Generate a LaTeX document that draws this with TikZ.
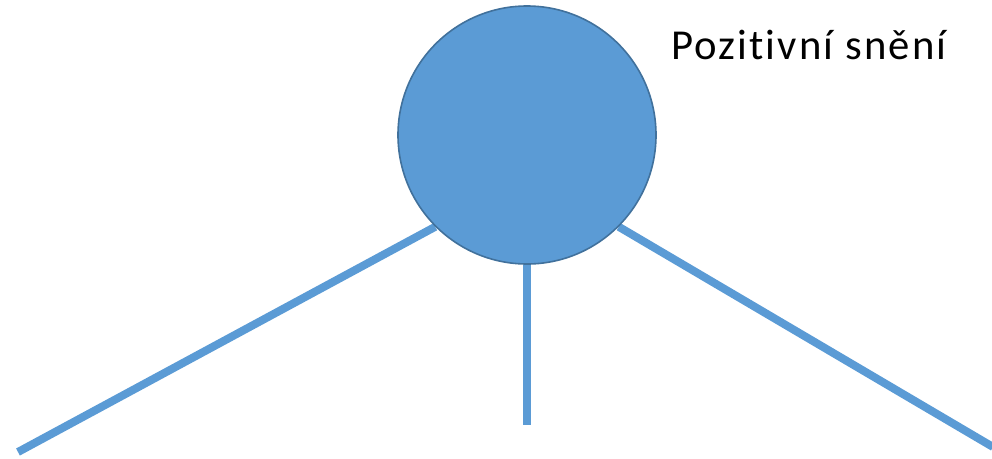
\documentclass[tikz,border=0pt]{standalone}
\usepackage{fontspec}
\setmainfont{Carlito}[Ligatures=NoCommon]
\newfontfamily\captionfont{Carlito}[Ligatures=NoCommon, LetterSpace=5]
\usetikzlibrary{positioning, backgrounds}
\definecolor{hubblue}{HTML}{5B9BD5}
\definecolor{hubedge}{HTML}{41719C}
\definecolor{darktext}{HTML}{000000}

\begin{document}
\begin{tikzpicture}[
    x=0.75pt, y=-0.75pt,
    % --- node styles ---
    hub/.style={
        circle, minimum size=258*0.75pt, inner sep=0pt,
        draw=hubedge, line width=1.2pt, fill=hubblue
    },
    caption/.style={
        anchor=base west, inner sep=0pt, text=darktext,
        font=\captionfont\fontsize{32}{38}\selectfont
    },
    branch/.style={draw=hubblue, line width=6pt},
]
\useasboundingbox (0,0) rectangle (992,458);

% ===== HUB =====
\node[hub] (dream) at (527,135) {};

% ===== CAPTION =====
\node[caption] (title) at (671,59) {Pozitivní snění};

% ===== FREE ENDS =====
\coordinate (leftend) at (18,452);
\coordinate (midend) at (527,425);
\coordinate (rightend) at (993,447);

% ===== BRANCHES =====
\begin{scope}[on background layer]
    \draw[branch] (dream.225) -- (leftend);
    \draw[branch] (dream.south) -- (midend);
    \draw[branch] (dream.-45) -- (rightend);
\end{scope}

\end{tikzpicture}
\end{document}
